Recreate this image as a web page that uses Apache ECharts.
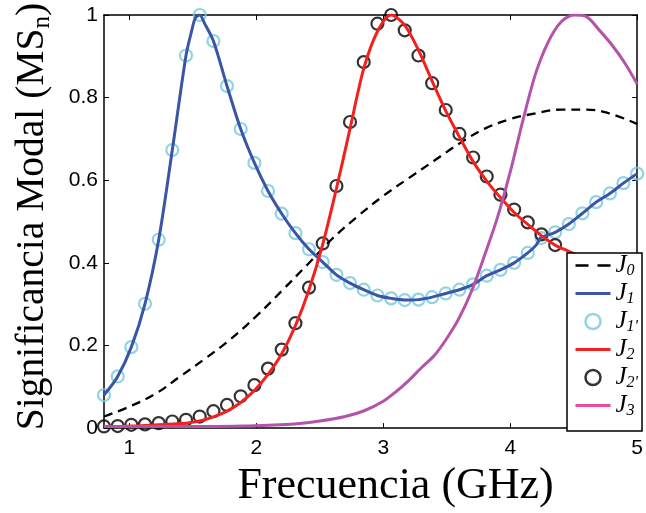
<!DOCTYPE html>
<html><head><meta charset="utf-8">
<script src="https://cdn.jsdelivr.net/npm/echarts@6/dist/echarts.min.js"></script>
<style>html,body{margin:0;padding:0;background:#fff}#c{width:646px;height:513px}</style>
</head><body><div id="c"></div>
<script>
// x ticks
const xTicks = [1, 2, 3, 4, 5];
// J0 (dashed) sampled every 0.2 GHz
const xJ0 = [0.8,1.0,1.2,1.4,1.6,1.8,2.0,2.2,2.4,2.6,2.8,3.0,3.2,3.4,3.6,3.8,4.0,4.2,4.4,4.6,4.8,5.0];
const yJ0 = [0.028,0.052,0.082,0.125,0.169,0.216,0.271,0.332,0.395,0.459,0.513,0.562,0.605,0.647,0.689,0.725,0.748,0.762,0.771,0.771,0.760,0.736];
// marker abscissas (40 samples)
const xMk = [0.800,0.908,1.015,1.123,1.231,1.338,1.446,1.554,1.662,1.769,1.877,1.985,2.092,2.200,2.308,2.415,2.523,2.631,2.738,2.846,2.954,3.062,3.169,3.277,3.385,3.492,3.600,3.708,3.815,3.923,4.031,4.138,4.246,4.354,4.462,4.569,4.677,4.785,4.892,5.000];
// J1' markers
const yJ1p = [0.080,0.125,0.196,0.301,0.456,0.673,0.902,1.000,0.937,0.828,0.724,0.642,0.574,0.519,0.472,0.433,0.402,0.371,0.351,0.335,0.321,0.314,0.310,0.311,0.317,0.326,0.335,0.348,0.369,0.383,0.400,0.424,0.460,0.474,0.494,0.520,0.547,0.568,0.593,0.616];
// J1 line
const xJ1 = [0.800,0.908,1.015,1.123,1.231,1.338,1.446,1.49,1.52,1.554,1.59,1.662,1.769,1.877,1.985,2.092,2.200,2.308,2.415,2.523,2.631,2.738,2.846,2.954,3.062,3.169,3.277,3.385,3.492,3.600,3.708,3.815,3.923,4.031,4.138,4.204,4.232,4.246,4.354,4.462,4.569,4.677,4.785,4.892,5.000];
const yJ1 = [0.080,0.125,0.196,0.301,0.456,0.673,0.902,0.961,0.993,1.000,0.981,0.937,0.828,0.724,0.642,0.574,0.519,0.472,0.433,0.402,0.371,0.351,0.335,0.321,0.314,0.310,0.311,0.317,0.326,0.335,0.348,0.369,0.383,0.400,0.424,0.443,0.458,0.462,0.474,0.494,0.520,0.547,0.568,0.593,0.616];
// J2' markers (visible ones, left of the legend)
const yJ2p = [0.004,0.005,0.008,0.009,0.012,0.016,0.020,0.028,0.041,0.056,0.077,0.104,0.144,0.190,0.254,0.340,0.447,0.586,0.741,0.886,0.979,1.000,0.963,0.902,0.835,0.770,0.712,0.655,0.609,0.565,0.529,0.498,0.469,0.443];
// J2 line (same abscissas as markers)
const yJ2 = [0.004,0.004,0.005,0.006,0.008,0.010,0.012,0.017,0.027,0.041,0.062,0.091,0.130,0.180,0.248,0.335,0.445,0.580,0.725,0.870,0.960,1.000,0.975,0.915,0.840,0.768,0.705,0.645,0.598,0.558,0.522,0.493,0.466,0.443,0.428,0.414,0.403,0.394,0.386,0.380];
// J3 line
const xJ3 = [0.8,1.2,1.6,1.9,2.1,2.3,2.5,2.7,2.85,3.0,3.1,3.2,3.3,3.4,3.5,3.6,3.7,3.8,3.9,4.0,4.1,4.2,4.3,4.4,4.5,4.6,4.7,4.8,4.9,5.0];
const yJ3 = [0.004,0.004,0.004,0.005,0.007,0.010,0.017,0.028,0.042,0.065,0.088,0.115,0.146,0.175,0.217,0.268,0.335,0.420,0.510,0.620,0.745,0.858,0.935,0.983,1.000,0.996,0.964,0.928,0.885,0.833];

const zip = (xs, ys) => ys.map((y, i) => [xs[i], y]);
const chart = echarts.init(document.getElementById('c'), null, {renderer: 'canvas'});
const serif = 'Liberation Serif';
const sans = 'Liberation Sans';
const noSym = {color: 'rgba(0,0,0,0)', borderColor: 'rgba(0,0,0,0)', borderWidth: 0};
const axisCommon = {
  type: 'value',
  axisLine: {show: true, onZero: false, lineStyle: {color: '#000', width: 1.5}},
  axisTick: {show: true, inside: true, length: 5, lineStyle: {color: '#000', width: 1}},
  splitLine: {show: false}
};
chart.setOption({
  animation: false,
  backgroundColor: '#fff',
  grid: {left: 104, right: 2, top: 15, bottom: 73},
  xAxis: [
    Object.assign({}, axisCommon, {
      min: 0.8, max: 5, position: 'bottom',
      axisTick: Object.assign({}, axisCommon.axisTick, {customValues: xTicks}),
      axisLabel: {customValues: xTicks, color: '#000', fontFamily: sans, fontSize: 21, margin: 10},
      name: 'Frecuencia (GHz)', nameLocation: 'middle', nameGap: 23,
      nameTextStyle: {fontFamily: serif, fontSize: 44, color: '#000', padding: [0, 0, 0, 50]}
    }),
    Object.assign({}, axisCommon, {
      min: 0.8, max: 5, position: 'top',
      axisTick: Object.assign({}, axisCommon.axisTick, {customValues: xTicks}),
      axisLabel: {show: false}
    })
  ],
  yAxis: [
    Object.assign({}, axisCommon, {
      min: 0, max: 1, interval: 0.2, position: 'left',
      axisLabel: {color: '#000', fontFamily: sans, fontSize: 21, margin: 6,
        formatter: v => (v === 0 ? '0' : v === 1 ? '1' : v.toFixed(1))},
      name: '{a|Significancia Modal (MS}{b|n}{a|)}', nameLocation: 'middle', nameGap: 49,
      nameTextStyle: {padding: [0, 0, 0, 10], rich: {
        a: {fontFamily: serif, fontSize: 39.5, color: '#000', lineHeight: 44},
        b: {fontFamily: serif, fontSize: 25, color: '#000', lineHeight: 44, verticalAlign: 'bottom'}
      }}
    }),
    Object.assign({}, axisCommon, {
      min: 0, max: 1, interval: 0.2, position: 'right',
      axisLabel: {show: false}
    })
  ],
  legend: {
    orient: 'vertical', left: 567, top: 253,
    backgroundColor: '#fff', borderColor: '#000', borderWidth: 1.5, borderRadius: 0,
    padding: [0, 4, 12, 7], itemWidth: 35, itemHeight: 15, itemGap: 2,
    formatter: n => '{j|J}{s|' + n.slice(1) + '}',
    textStyle: {rich: {
      j: {fontFamily: serif, fontStyle: 'italic', fontSize: 25, color: '#000', lineHeight: 27},
      s: {fontFamily: serif, fontStyle: 'italic', fontSize: 16, color: '#000', lineHeight: 27, verticalAlign: 'bottom'}
    }},
    data: [
      {name: 'J0', itemStyle: noSym, lineStyle: {type: [13, 9], width: 2.5}},
      {name: 'J1', itemStyle: noSym, lineStyle: {width: 3}},
      {name: "J1'", icon: 'circle', itemStyle: {color: 'rgba(0,0,0,0)', borderColor: '#74c9dc', borderWidth: 2.5}},
      {name: 'J2', itemStyle: noSym, lineStyle: {width: 3}},
      {name: "J2'", icon: 'circle', itemStyle: {color: 'rgba(0,0,0,0)', borderColor: '#000', borderWidth: 2.5}},
      {name: 'J3', lineStyle: {color: '#ec4aa0', width: 3}, itemStyle: noSym}
    ]
  },
  series: [
    {name: 'J0', type: 'line', data: zip(xJ0, yJ0), symbol: 'none', smooth: 0.4,
      lineStyle: {color: '#000', width: 2.3, type: [9, 6]}, itemStyle: {color: '#000'}},
    {name: 'J1', type: 'line', data: zip(xJ1, yJ1), symbol: 'none', smooth: 0.3,
      lineStyle: {color: '#3a55a6', width: 3}, itemStyle: {color: '#3a55a6'}},
    {name: "J1'", type: 'scatter', data: zip(xMk, yJ1p), symbol: 'circle', symbolSize: 12, clip: false,
      itemStyle: {color: 'rgba(0,0,0,0)', borderColor: '#74c9dc', borderWidth: 2.2}},
    {name: 'J2', type: 'line', data: zip(xMk, yJ2), symbol: 'none', smooth: 0.3,
      lineStyle: {color: '#f41f1f', width: 3}, itemStyle: {color: '#f41f1f'}},
    {name: "J2'", type: 'scatter', data: zip(xMk, yJ2p), symbol: 'circle', symbolSize: 12, clip: false,
      itemStyle: {color: 'rgba(0,0,0,0)', borderColor: '#000', borderWidth: 2.2}},
    {name: 'J3', type: 'line', data: zip(xJ3, yJ3), symbol: 'none', smooth: 0.3,
      lineStyle: {color: '#b453a9', width: 3}, itemStyle: {color: '#b453a9'}}
  ]
});
</script></body></html>
